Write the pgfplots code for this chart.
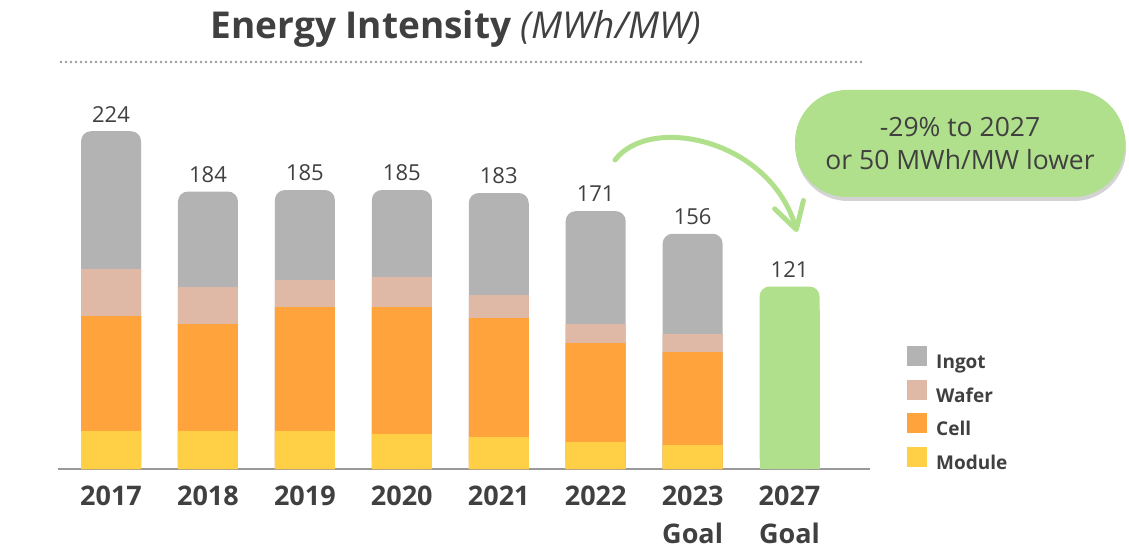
\documentclass[border=0pt]{standalone}
\usepackage{pgfplots}
\pgfplotsset{compat=1.18}
\usepackage{fontspec}
\setmainfont{Open Sans}
\usetikzlibrary{arrows.meta,shadows}
\definecolor{txt}{HTML}{404040}
\definecolor{ingot}{HTML}{B3B3B3}
\definecolor{wafer}{HTML}{E0B9A6}
\definecolor{cell}{HTML}{FFA33C}
\definecolor{module}{HTML}{FFD045}
\definecolor{goal}{HTML}{B0E08C}
\definecolor{axisgray}{HTML}{999999}
\pgfplotsset{
  sq/.style={legend image code/.code={%
    \fill[##1, sharp corners] (0pt,-4pt) rectangle (20pt,16pt);
    \path (29pt,0pt);}},
}
\begin{document}
\begin{tikzpicture}
\path (0,0) rectangle (1129pt,549pt);
% title and dotted rule
\node[text=txt, font=\fontsize{37}{44}\selectfont] at (456pt,520pt)
  {\textbf{Energy Intensity} \textit{(MWh/MW)}};
\draw[axisgray, line width=2.6pt, line cap=round, dash pattern=on 0pt off 5pt]
  (61pt,487pt) -- (864pt,487pt);
\begin{axis}[
  at={(58pt,80pt)}, anchor=south west,
  scale only axis, width=812pt, height=377pt,
  xmin=-0.547, xmax=7.83, ymin=0, ymax=250,
  clip=false,
  axis x line=bottom, hide y axis,
  x axis line style={axisgray, line width=1.5pt, -},
  xtick={0,...,7},
  xticklabels={2017,2018,2019,2020,2021,2022,{2023\\Goal},{2027\\Goal}},
  major tick length=0pt,
  x tick label style={font=\fontsize{27}{38}\selectfont\bfseries, text=txt,
    align=center, anchor=north, yshift=-13pt},
  ybar, bar width=60pt,
  every axis plot/.append style={draw=none, bar shift=0pt, sq},
  /pgf/number format/assume math mode=true,
  every node near coord/.append style={font=\fontsize{22}{26}\selectfont,
    text=txt, anchor=south, inner sep=0pt, yshift=9pt},
  legend style={at={(1.0456,0.326)}, anchor=north west, draw=none, fill=none,
    inner sep=0pt, row sep=9.7pt, font=\fontsize{19}{22}\selectfont\bfseries,
    text=txt, nodes={inner sep=0pt}},
  legend cell align=left,
]
% totals (ingot on top), rounded tops
\addplot[fill=ingot, rounded corners=10pt, nodes near coords] coordinates {
  (0,224) (1,184) (2,185) (3,185) (4,183) (5,171) (6,156)};
\addlegendentry{Ingot}
% cumulative top of wafer
\addplot[fill=wafer] coordinates {
  (0,132.5) (1,120.6) (2,125.2) (3,127.2) (4,115.3) (5,96.1) (6,89.5)};
\addlegendentry{Wafer}
% cumulative top of cell
\addplot[fill=cell] coordinates {
  (0,101.4) (1,96.1) (2,107.4) (3,107.4) (4,100.1) (5,83.5) (6,77.5)};
\addlegendentry{Cell}
\addplot[fill=module] coordinates {
  (0,25.2) (1,25.2) (2,25.2) (3,23.2) (4,21.2) (5,17.9) (6,15.9)};
\addlegendentry{Module}
% 2027 goal
\addplot[fill=goal, rounded corners=10pt, nodes near coords, forget plot]
  coordinates {(7,121)};
\addplot[fill=goal, forget plot] coordinates {(7,105.4)};
\end{axis}
% callout and arrow
\draw[goal, line width=5pt, line cap=round,
  -{Straight Barb[round, length=26pt, width=30pt]}]
  (615pt,389pt) .. controls (650pt,435pt) and (770pt,410pt) .. (797pt,317pt);
\node[fill=goal, rounded corners=52pt, minimum width=330pt, minimum height=107pt,
  align=center, text=txt, font=\fontsize{26.5}{33}\selectfont,
  drop shadow={shadow xshift=1pt, shadow yshift=-4pt, opacity=0.35}]
  at (960pt,405.5pt) {-29\% to 2027\\or 50 MWh/MW lower};
\end{tikzpicture}
\end{document}
